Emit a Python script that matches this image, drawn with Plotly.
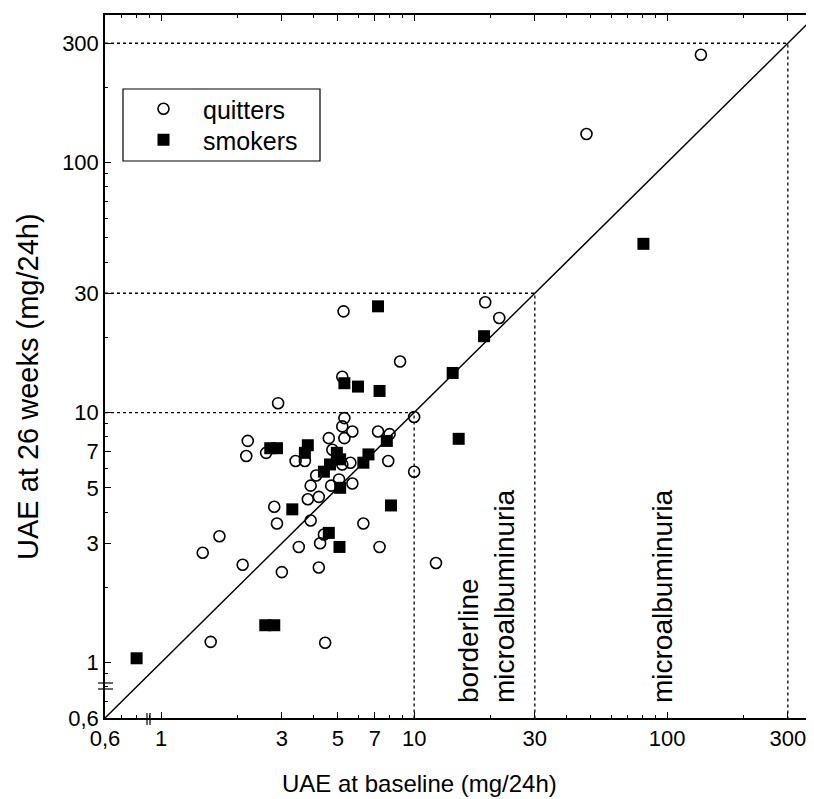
import math
import plotly.graph_objects as go

# ---- data ----
quit_x = [136, 48, 19.1, 21.7, 8.8, 5.26, 5.2, 2.9, 5.3, 5.2, 5.7, 5.3, 4.6, 7.2, 8.0,
          10, 2.2, 2.17, 2.6, 3.4, 3.7, 4.75, 5.6, 7.9, 5.2, 10, 4.1, 3.9, 4.7, 5.05,
          5.7, 3.8, 4.2, 2.8, 2.87, 3.9, 6.3, 1.7, 1.46, 2.1, 3.5, 4.25, 4.4, 7.3, 3.0,
          4.2, 12.2, 1.57, 4.45]
quit_y = [270, 130, 27.6, 23.9, 16, 25.4, 13.9, 10.9, 9.5, 8.8, 8.4, 7.9, 7.9, 8.4, 8.2,
          9.6, 7.7, 6.7, 6.9, 6.4, 6.4, 7.1, 6.3, 6.4, 6.2, 5.8, 5.6, 5.1, 5.1, 5.4,
          5.2, 4.5, 4.6, 4.2, 3.6, 3.7, 3.6, 3.2, 2.75, 2.46, 2.9, 3.0, 3.25, 2.9, 2.3,
          2.4, 2.5, 1.21, 1.2]

smk_x = [80.6, 7.2, 18.9, 14.2, 5.3, 6.0, 7.3, 15, 2.7, 2.87, 3.8, 3.7, 4.95, 5.1,
         4.65, 4.4, 5.1, 6.6, 6.3, 7.8, 3.3, 8.1, 4.6, 5.07, 0.8, 2.58, 2.8]
smk_y = [47.3, 26.6, 20.2, 14.4, 13.1, 12.7, 12.2, 7.85, 7.2, 7.2, 7.4, 6.9, 6.9, 6.5,
         6.2, 5.8, 5.0, 6.8, 6.3, 7.7, 4.1, 4.25, 3.3, 2.9, 1.04, 1.41, 1.41]

thresholds = [10, 30, 300]
axis_min = 0.6
tick_vals = [0.6, 1, 3, 5, 7, 10, 30, 100, 300]
tick_text = ["0,6", "1", "3", "5", "7", "10", "30", "100", "300"]
minor_vals = [0.7, 0.8, 0.9, 2, 4, 6, 8, 9, 20, 40, 50, 60, 70, 80, 90, 200]

FONT = "Liberation Sans, Arial, sans-serif"

# page body has an 8px margin; plot area should start at (105, 15) on screen
L, T, PW, PH = 97, 7, 709, 703
W, H = 806, 791
B = H - T - PH


def px(xpix):
    return (xpix - 8 - L) / PW


def py(ypix):
    return (T + PH + 8 - ypix) / PH


fig = go.Figure()

# dotted threshold L-lines
for t in thresholds:
    fig.add_trace(go.Scatter(x=[axis_min, t, t], y=[t, t, axis_min], mode="lines",
                             line=dict(color="black", width=1.3, dash="dot"),
                             showlegend=False, hoverinfo="skip"))

# identity line
fig.add_trace(go.Scatter(x=[axis_min, 400], y=[axis_min, 400], mode="lines",
                         line=dict(color="black", width=1.5),
                         showlegend=False, hoverinfo="skip"))

fig.add_trace(go.Scatter(x=quit_x, y=quit_y, mode="markers", name="quitters",
                         legend="legend",
                         marker=dict(symbol="circle-open", size=11, color="black",
                                     line=dict(width=1.6, color="black"))))
fig.add_trace(go.Scatter(x=smk_x, y=smk_y, mode="markers", name="smokers",
                         legend="legend2",
                         marker=dict(symbol="square", size=12, color="black")))

axis_common = dict(
    type="log", tickmode="array", tickvals=tick_vals, ticktext=tick_text,
    ticks="inside", ticklen=6, tickwidth=1.2, tickcolor="black", automargin=False,
    showline=True, linecolor="black", linewidth=1.5, showgrid=False, zeroline=False,
    tickfont=dict(family=FONT, size=22, color="black"),
    minor=dict(tickvals=minor_vals, ticks="inside", ticklen=3, tickcolor="black",
               showgrid=False),
)

fig.update_xaxes(**axis_common, range=[math.log10(0.6), math.log10(0.6) + PW / 253],
                 mirror="ticks")
fig.update_yaxes(**axis_common, range=[math.log10(0.6), math.log10(0.6) + PH / 250],
                 mirror=False)

shapes = []
# legend frame
shapes.append(dict(type="rect", xref="paper", yref="paper", x0=px(123), x1=px(320),
                   y0=py(161), y1=py(89), line=dict(color="black", width=1.2),
                   fillcolor="rgba(0,0,0,0)", layer="above"))
# axis break marks
for bx in (147, 150):
    shapes.append(dict(type="line", xref="paper", yref="paper", x0=px(bx), x1=px(bx),
                       y0=py(725), y1=py(713), line=dict(color="black", width=1.2)))
for by in (683, 689):
    shapes.append(dict(type="line", xref="paper", yref="paper", x0=px(98), x1=px(113),
                       y0=py(by), y1=py(by), line=dict(color="black", width=1.2)))

annotations = [
    dict(text="UAE at baseline (mg/24h)", xref="paper", yref="paper", x=px(419.5), y=py(783),
         xanchor="center", yanchor="middle", showarrow=False,
         font=dict(family=FONT, size=24, color="black")),
    dict(text="UAE at 26 weeks (mg/24h)", xref="paper", yref="paper", x=px(28), y=py(387),
         xanchor="center", yanchor="middle", showarrow=False, textangle=-90,
         font=dict(family=FONT, size=29, color="black")),
    dict(text="borderline<br>microalbuminuria", xref="paper", yref="paper",
         x=px(486), y=py(705), xanchor="center", yanchor="bottom",
         align="left", showarrow=False, textangle=-90,
         font=dict(family=FONT, size=28, color="black")),
    dict(text="microalbuminuria", xref="paper", yref="paper",
         x=px(662), y=py(705), xanchor="center", yanchor="bottom",
         showarrow=False, textangle=-90,
         font=dict(family=FONT, size=28, color="black")),
]

legend_common = dict(xanchor="left", yanchor="top", borderwidth=0,
                     bgcolor="rgba(255,255,255,0)",
                     font=dict(family=FONT, size=25, color="black"), itemwidth=69)

fig.update_layout(
    width=W, height=H,
    margin=dict(l=L, r=0, t=T, b=B, autoexpand=False),
    paper_bgcolor="white", plot_bgcolor="white",
    showlegend=True,
    legend=dict(x=px(124), y=py(86), **legend_common),
    legend2=dict(x=px(124), y=py(117), **legend_common),
    shapes=shapes, annotations=annotations,
)

fig.write_html("out.html")
